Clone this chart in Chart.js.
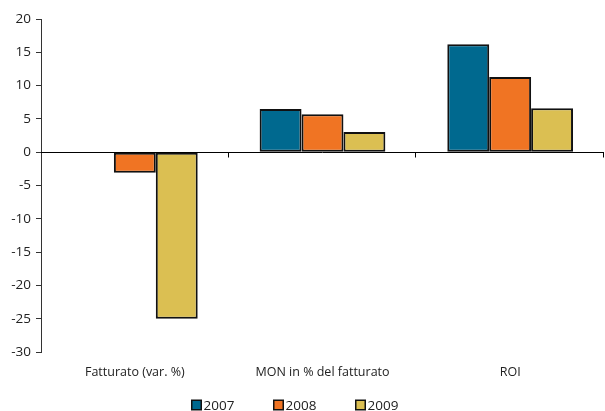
<!DOCTYPE html>
<html>
<head>
<meta charset="utf-8">
<script src="https://cdn.jsdelivr.net/npm/chart.js@4.4.1/dist/chart.umd.min.js"></script>
<style>
  html, body { margin: 0; padding: 0; background: #fff; }
  #wrap { width: 605px; height: 411px; position: relative; }
</style>
</head>
<body>
<div id="wrap"><canvas id="bilancio-chart"></canvas></div>
<script>
const categories = ['Fatturato (var. %)', 'MON in % del fatturato', 'ROI'];
const years = ['2007', '2008', '2009'];
const values2007 = [null, 6.5, 16.2];
const values2008 = [-3.1, 5.7, 11.3];
const values2009 = [-25.0, 3.05, 6.6];
const yTicks = [20, 15, 10, 5, 0, -5, -10, -15, -20, -25, -30];
const barColors = ['#00698f', '#f07423', '#dbbf52'];

window.addEventListener('load', function () {
    drawChart();
});

// zero line with tick marks between categories
const zeroAxis = {
    id: 'zeroAxis',
    afterDatasetsDraw(chart) {
        const ctx = chart.ctx;
        const area = chart.chartArea;
        const y0 = Math.round(chart.scales.y.getPixelForValue(0)) + 0.5;
        const n = categories.length;
        const step = (area.right - area.left) / n;
        ctx.save();
        ctx.strokeStyle = '#000';
        ctx.lineWidth = 1;
        ctx.beginPath();
        ctx.moveTo(area.left, y0);
        ctx.lineTo(area.right, y0);
        for (let i = 1; i <= n; i++) {
            const x = Math.round(area.left + i * step) - 0.5;
            ctx.moveTo(x, y0);
            ctx.lineTo(x, y0 + 5);
        }
        ctx.stroke();
        ctx.restore();
    }
};

// legend drawn by hand so the spacing between items stays wide but the row stays short
const yearLegend = {
    id: 'yearLegend',
    afterDraw(chart) {
        const ctx = chart.ctx;
        const spacing = 82;
        const box = 10;
        let x = chart.width / 2 - 111;
        const y = chart.height - 6;
        ctx.save();
        ctx.font = '13.5px "Open Sans"';
        ctx.textBaseline = 'middle';
        ctx.textAlign = 'left';
        chart.data.datasets.forEach(ds => {
            ctx.fillStyle = ds.backgroundColor;
            ctx.fillRect(x, y - box / 2, box, box);
            ctx.strokeStyle = '#111';
            ctx.lineWidth = 1.5;
            ctx.strokeRect(x + 0.25, y - box / 2 + 0.25, box - 0.5, box - 0.5);
            ctx.fillStyle = '#222';
            ctx.fillText(ds.label, x + box + 2, y + 1);
            x += spacing;
        });
        ctx.restore();
    }
};

function drawChart() {
    const ctx = document.getElementById('bilancio-chart').getContext('2d');
    const series = [values2007, values2008, values2009];
    new Chart(ctx, {
        type: 'bar',
        data: {
            labels: categories,
            datasets: series.map((vals, i) => ({
                label: years[i],
                data: vals,
                backgroundColor: barColors[i],
                borderColor: '#111',
                borderWidth: 2,
                borderSkipped: false,
                barPercentage: 1,
                categoryPercentage: 0.67
            }))
        },
        options: {
            responsive: true,
            maintainAspectRatio: false,
            animation: false,
            layout: { padding: { top: 19, right: 1, left: 0, bottom: 29 } },
            plugins: {
                legend: { display: false },
                tooltip: { enabled: false }
            },
            scales: {
                x: {
                    grid: { display: false, drawTicks: false },
                    border: { display: false },
                    ticks: {
                        color: '#222',
                        padding: 13,
                        maxRotation: 0,
                        font: { family: 'Open Sans', size: 12.5 }
                    },
                    afterFit(scale) { scale.height = 30; }
                },
                y: {
                    min: -30,
                    max: 20,
                    afterBuildTicks(scale) {
                        scale.ticks = yTicks.map(v => ({ value: v }));
                    },
                    grid: {
                        drawOnChartArea: false,
                        tickLength: 5,
                        color: '#333'
                    },
                    border: { display: true, color: '#333', width: 1 },
                    ticks: {
                        color: '#222',
                        padding: 5,
                        font: { family: 'Open Sans', size: 13.5 }
                    },
                    afterFit(scale) { scale.width = 41; }
                }
            }
        },
        plugins: [zeroAxis, yearLegend]
    });
}
</script>
</body>
</html>
